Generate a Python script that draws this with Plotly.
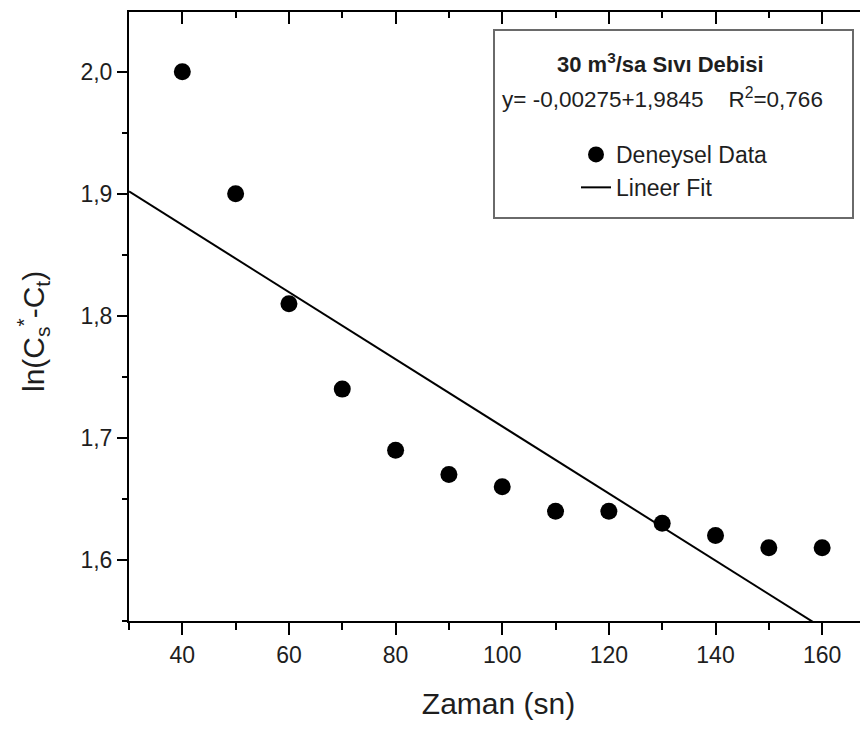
import plotly.graph_objects as go

# ---- data ----
time_s = [40, 50, 60, 70, 80, 90, 100, 110, 120, 130, 140, 150, 160]
ln_vals = [2.00, 1.90, 1.81, 1.74, 1.69, 1.67, 1.66, 1.64, 1.64, 1.63, 1.62, 1.61, 1.61]
fit_slope = -0.00275
fit_intercept = 1.9845
fit_x = [30, 170]
fit_y = [fit_intercept + fit_slope * x for x in fit_x]
x_ticks = [40, 60, 80, 100, 120, 140, 160]
y_ticks = [1.6, 1.7, 1.8, 1.9, 2.0]

FONT = "Liberation Sans, Arial, sans-serif"
TXT = "#1e1e1e"
# the page body has an 8px margin, so the figure is sized/offset to compensate
OFF = 8
W, H = 868 - OFF, 729 - OFF
L, R, T, B = 129 - OFF, 0, 12 - OFF, 108
PW, PH = W - L - R, H - T - B
PLOT_LEFT_PAGE, PLOT_BOTTOM_PAGE = 129, 621


def px(xp):  # page pixel -> paper x
    return (xp - PLOT_LEFT_PAGE) / PW


def py(yp):  # page pixel -> paper y
    return (PLOT_BOTTOM_PAGE - yp) / PH


fig = go.Figure()
fig.add_trace(go.Scatter(
    x=time_s, y=ln_vals, mode="markers", name="Deneysel Data",
    marker=dict(size=17, color="black"),
))
fig.add_trace(go.Scatter(
    x=fit_x, y=fit_y, mode="lines", name="Lineer Fit",
    line=dict(color="black", width=2),
))
# dummy trace so the mirrored (top/right) tick axes are drawn
fig.add_trace(go.Scatter(x=[], y=[], xaxis="x2", yaxis="y2", showlegend=False, hoverinfo="skip"))

axis_common = dict(showgrid=False, zeroline=False, linecolor="black", tickcolor="black")

fig.update_layout(
    width=W, height=H,
    margin=dict(l=L, r=R, t=T, b=B),
    paper_bgcolor="white", plot_bgcolor="white",
    separators=", ",
    font=dict(family=FONT, color=TXT),
    xaxis=dict(
        **axis_common, range=[30, 168.6], tickmode="array", tickvals=x_ticks,
        ticks="outside", ticklen=12, tickwidth=2, showline=True, linewidth=2,
        minor=dict(dtick=10, tick0=30, ticks="outside", ticklen=7, tickwidth=2, tickcolor="black"),
        tickfont=dict(size=23, family=FONT, color=TXT),
        title=dict(text="Zaman (sn)", font=dict(size=30, family=FONT, color=TXT), standoff=26),
    ),
    yaxis=dict(
        **axis_common, range=[1.55, 2.049], tickmode="array", tickvals=y_ticks,
        tickformat=".1f",
        ticks="outside", ticklen=10, tickwidth=2, showline=True, linewidth=2,
        minor=dict(dtick=0.05, tick0=1.55, ticks="outside", ticklen=5, tickwidth=2, tickcolor="black"),
        tickfont=dict(size=23, family=FONT, color=TXT),
    ),
    xaxis2=dict(
        **axis_common, overlaying="x", side="top", anchor="y", matches="x",
        tickmode="array", tickvals=x_ticks, showticklabels=False,
        ticks="inside", ticklen=12, tickwidth=2, showline=True, linewidth=2,
        minor=dict(dtick=10, tick0=30, ticks="inside", ticklen=6, tickwidth=2, tickcolor="black"),
    ),
    yaxis2=dict(
        **axis_common, overlaying="y", side="right", anchor="x", matches="y",
        tickmode="array", tickvals=y_ticks, showticklabels=False,
        ticks="inside", ticklen=5, tickwidth=2, showline=False,
    ),
    showlegend=True,
    legend=dict(
        x=px(576), y=py(133), xanchor="left", yanchor="top",
        bgcolor="rgba(0,0,0,0)", borderwidth=0,
        font=dict(size=23, family=FONT, color=TXT),
        tracegroupgap=0,
    ),
    shapes=[dict(
        type="rect", xref="paper", yref="paper",
        x0=px(494), x1=px(853), y0=py(218), y1=py(30),
        line=dict(color="#6a6a6a", width=2), fillcolor="rgba(0,0,0,0)", layer="above",
    )],
    annotations=[
        dict(text="ln(C<sub>s</sub><sup>*</sup>-C<sub>t</sub>)", xref="paper", yref="paper",
             x=px(33), y=py(332), showarrow=False, xanchor="center", yanchor="middle",
             textangle=-90, font=dict(size=30, family=FONT, color=TXT)),
        dict(text="<b>30 m<sup>3</sup>/sa S\u0131v\u0131 Debisi</b>", xref="paper", yref="paper",
             x=px(660), y=py(63), showarrow=False, xanchor="center", yanchor="middle",
             font=dict(size=22, family=FONT, color=TXT)),
        dict(text="y= -0,00275+1,9845\u00a0\u00a0\u00a0\u00a0R<sup>2</sup>=0,766", xref="paper", yref="paper",
             x=px(662), y=py(98), showarrow=False, xanchor="center", yanchor="middle",
             font=dict(size=22.5, family=FONT, color=TXT)),
    ],
)

fig.write_html("out.html")
